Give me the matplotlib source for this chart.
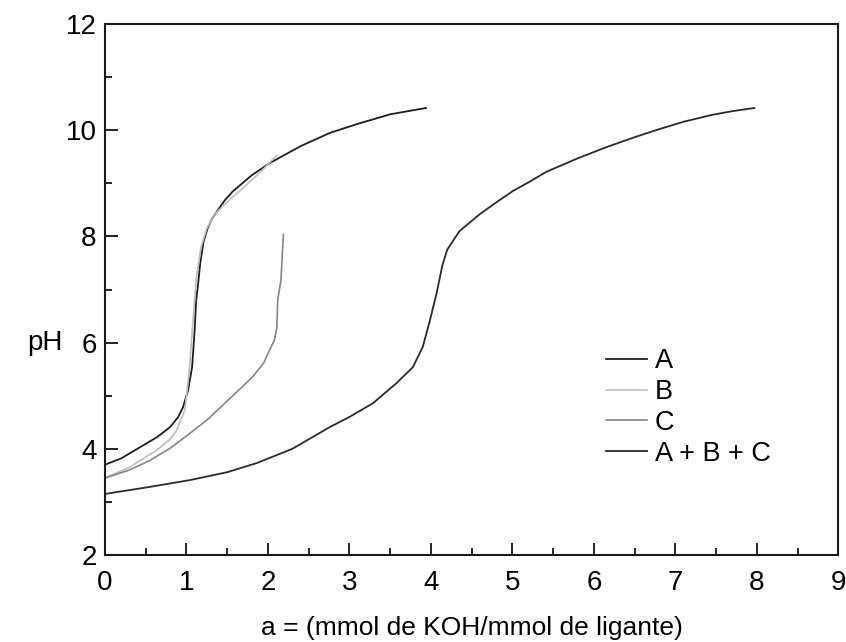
import matplotlib
matplotlib.use("Agg")
import matplotlib.pyplot as plt
from matplotlib.ticker import MultipleLocator

plt.rcParams['font.family'] = ['Liberation Sans', 'DejaVu Sans']

# curva A
a_x = [0.0, 0.2, 0.43, 0.64, 0.80, 0.90, 0.96, 1.02, 1.07, 1.10, 1.12, 1.14, 1.17, 1.21, 1.26, 1.31,
       1.37, 1.47, 1.57, 1.80, 2.02, 2.40, 2.76, 3.10, 3.50, 3.94]
a_y = [3.70, 3.82, 4.03, 4.22, 4.41, 4.60, 4.79, 5.10, 5.54, 6.20, 6.80, 7.05, 7.50, 7.90, 8.15, 8.32,
       8.46, 8.68, 8.85, 9.15, 9.38, 9.70, 9.95, 10.12, 10.30, 10.42]

# curva B
b_x = [0.0, 0.3, 0.64, 0.80, 0.88, 0.98, 1.00, 1.04, 1.08, 1.12, 1.18, 1.25, 1.35, 1.50, 1.70, 1.90, 2.11]
b_y = [3.45, 3.65, 3.98, 4.18, 4.35, 4.73, 4.98, 5.54, 6.40, 7.20, 7.80, 8.15, 8.42, 8.65, 8.92, 9.20, 9.53]

# curva C
c_x = [0.0, 0.3, 0.55, 0.80, 1.05, 1.25, 1.50, 1.81, 1.95, 2.02, 2.08, 2.11, 2.12, 2.16, 2.19]
c_y = [3.45, 3.60, 3.78, 4.01, 4.30, 4.54, 4.90, 5.35, 5.62, 5.86, 6.05, 6.29, 6.80, 7.18, 8.04]

# curva A + B + C
abc_x = [0.0, 0.5, 1.04, 1.50, 1.86, 2.30, 2.76, 3.00, 3.29, 3.58, 3.78, 3.90, 3.98, 4.07, 4.14,
         4.20, 4.35, 4.60, 4.81, 5.00, 5.21, 5.42, 5.80, 6.15, 6.50, 6.80, 7.10, 7.45, 7.70, 7.97]
abc_y = [3.15, 3.27, 3.41, 3.56, 3.73, 4.00, 4.41, 4.60, 4.86, 5.24, 5.54, 5.92, 6.37, 6.93, 7.45,
         7.75, 8.10, 8.42, 8.65, 8.85, 9.03, 9.22, 9.47, 9.68, 9.87, 10.02, 10.16, 10.29, 10.36, 10.42]

labels = ["A", "B", "C", "A + B + C"]

fig = plt.figure(figsize=(8.46, 6.42), dpi=100)
ax = fig.add_axes([0.124, 0.1355, 0.867, 0.827])

ax.plot(a_x, a_y, color="#1e1e1e", lw=1.3, label=labels[0], solid_joinstyle="round")
ax.plot(b_x, b_y, color="#bdbdbd", lw=1.2, label=labels[1], solid_joinstyle="round")
ax.plot(c_x, c_y, color="#858585", lw=1.2, label=labels[2], solid_joinstyle="round")
ax.plot(abc_x, abc_y, color="#2a2a2a", lw=1.3, label=labels[3], solid_joinstyle="round")

ax.set_xlim(0, 9)
ax.set_ylim(2, 12)
ax.xaxis.set_major_locator(MultipleLocator(1))
ax.xaxis.set_minor_locator(MultipleLocator(0.5))
ax.yaxis.set_major_locator(MultipleLocator(2))
ax.yaxis.set_minor_locator(MultipleLocator(1))
ax.tick_params(which="both", direction="in", top=False, right=False, width=1.2, labelsize=20)
ax.tick_params(which="major", length=9)
ax.tick_params(which="minor", length=5)
ax.tick_params(axis="x", pad=11)
ax.tick_params(axis="y", pad=6)
for s in ax.spines.values():
    s.set_linewidth(1.5)
    s.set_color("#1a1a1a")

ax.set_xlabel("a = (mmol de KOH/mmol de ligante)", fontsize=19, va="center")
ax.xaxis.set_label_coords(0.5, -0.137)
ax.set_ylabel("pH", fontsize=20, rotation=0, ha="center", va="center")
ax.yaxis.set_label_coords(-0.082, 0.40)

ax.legend(loc="upper left", bbox_to_anchor=(0.665, 0.415), frameon=False, fontsize=19.5,
          handlelength=1.5, handletextpad=0.3, labelspacing=0.18, borderpad=0)

fig.savefig("out.png", dpi=100)
